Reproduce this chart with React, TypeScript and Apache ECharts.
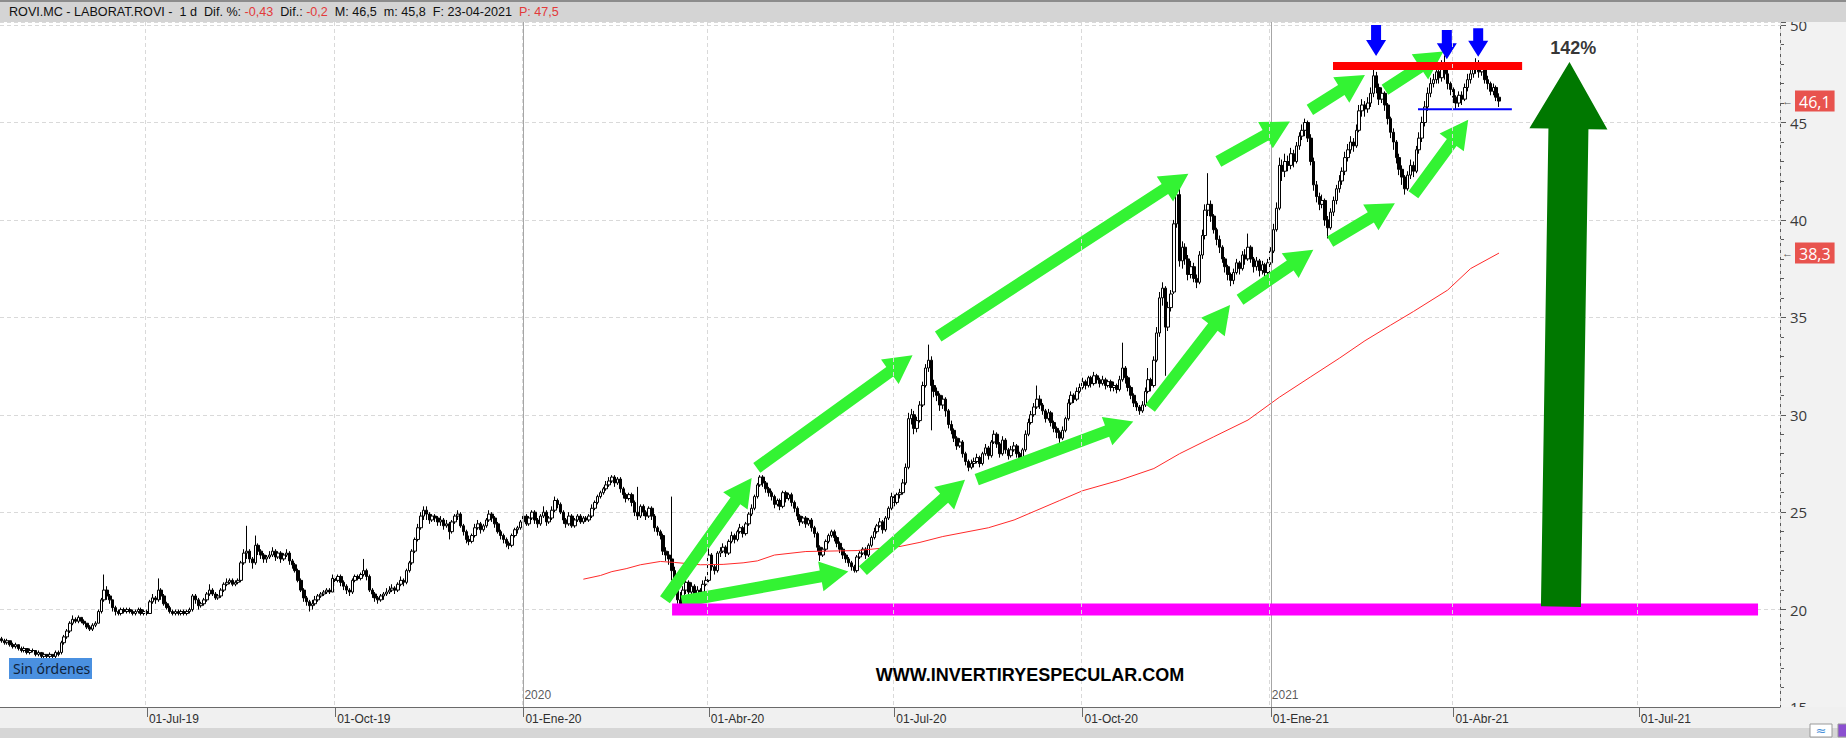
import React, { useEffect, useRef } from 'react';
import * as echarts from 'echarts';

// ---------- categories (weekdays) ----------
const START_UTC = Date.UTC(2019, 3, 19);
const CATEGORY_COUNT = 624;
const QUARTER_MONTH_NAMES: Record<number, string> = { 1: 'Ene', 4: 'Abr', 7: 'Jul', 10: 'Oct' };
const yearMarks = ['2020-01-01', '2021-01-01'];
const yearLabels = ['2020', '2021'];

// ---------- daily candles [open, close, low, high] ----------
const candles: number[][] = [
  [18.5,18.4,18.3,18.6],[18.4,18.3,18.2,18.5],[18.3,18.4,18.2,18.5],[18.4,18.2,18.1,18.4],[18.2,18.1,18.0,18.3],
  [18.1,18.2,18.0,18.3],[18.2,18.0,17.9,18.2],[18.0,17.9,17.8,18.1],[17.9,18.0,17.8,18.1],[18.0,17.8,17.7,18.0],
  [17.8,17.9,17.7,18.0],[17.9,17.9,17.8,18.0],[17.9,17.7,17.6,17.9],[17.7,17.8,17.6,17.9],[17.8,17.6,17.5,17.8],
  [17.6,17.7,17.5,17.8],[17.7,17.6,17.5,17.7],[17.6,17.7,17.5,17.8],[17.7,17.6,17.5,17.7],[17.6,17.8,17.5,17.9],
  [17.8,17.7,17.6,17.9],[17.8,18.3,17.7,18.4],[18.3,18.6,18.2,18.7],[18.6,18.9,18.5,19.0],[18.9,19.3,18.8,19.4],
  [19.3,19.5,19.2,19.7],[19.5,19.4,19.3,19.6],[19.4,19.6,19.3,19.7],[19.6,19.4,19.3,19.6],[19.4,19.3,19.2,19.5],
  [19.3,19.1,19.0,19.3],[19.1,19.0,18.9,19.2],[19.0,19.2,18.9,19.3],[19.2,19.3,19.1,19.4],[19.3,19.9,19.3,20.0],
  [19.9,20.5,19.8,20.6],[20.5,21.0,20.4,21.8],[21.0,20.7,20.5,21.2],[20.7,20.5,20.3,20.8],[20.5,20.1,19.9,20.5],
  [20.1,19.9,19.7,20.2],[19.9,19.8,19.7,20.0],[19.8,20.0,19.7,20.1],[20.0,19.9,19.8,20.1],[19.9,20.0,19.8,20.1],
  [20.0,19.9,19.8,20.1],[19.9,19.8,19.7,20.0],[19.8,19.9,19.7,20.0],[19.9,20.0,19.8,20.1],[20.0,19.8,19.7,20.1],
  [19.8,19.9,19.7,20.0],[19.9,19.8,19.7,20.0],[19.8,20.4,19.8,20.5],[20.4,20.6,20.3,20.8],[20.6,20.5,20.3,20.7],
  [20.5,21.0,20.4,21.6],[21.0,20.7,20.5,21.1],[20.7,20.3,20.2,20.8],[20.3,20.1,20.0,20.4],[20.1,19.9,19.8,20.2],
  [19.9,19.8,19.7,20.0],[19.8,19.9,19.7,20.0],[19.9,19.8,19.7,20.0],[19.8,19.9,19.7,20.0],[19.9,19.8,19.7,20.0],
  [19.8,19.9,19.7,20.0],[19.9,20.0,19.8,20.1],[20.0,20.7,19.9,20.8],[20.7,20.5,20.3,20.8],[20.5,20.2,20.0,20.6],
  [20.2,20.3,20.1,20.4],[20.3,20.5,20.2,20.6],[20.5,20.8,20.4,20.9],[20.8,21.0,20.7,21.3],[21.0,20.8,20.7,21.1],
  [20.8,20.6,20.5,20.9],[20.6,20.7,20.5,20.8],[20.7,21.0,20.6,21.1],[21.0,21.3,20.9,21.4],[21.3,21.4,21.2,21.6],
  [21.4,21.5,21.3,21.6],[21.5,21.3,21.2,21.6],[21.3,21.4,21.2,21.5],[21.4,21.5,21.3,21.6],[21.5,22.4,21.4,22.5],
  [22.4,22.9,22.3,23.1],[22.9,23.0,22.6,24.3],[23.0,22.6,22.4,23.1],[22.6,22.4,22.1,22.7],[22.4,23.3,22.3,23.8],
  [23.3,23.0,22.8,23.4],[23.0,22.8,22.6,23.1],[22.8,22.6,22.4,22.9],[22.6,22.7,22.4,22.8],[22.7,22.8,22.6,23.0],
  [22.8,23.0,22.7,23.2],[23.0,22.7,22.5,23.1],[22.7,22.9,22.6,23.0],[22.9,22.6,22.4,23.0],[22.6,22.8,22.5,22.9],
  [22.8,22.9,22.7,23.1],[22.9,22.5,22.3,23.0],[22.5,22.3,22.1,22.6],[22.3,22.0,21.9,22.4],[22.0,21.5,21.4,22.1],
  [21.5,21.0,20.9,21.6],[21.0,20.6,20.4,21.1],[20.6,20.4,20.2,20.7],[20.4,20.2,19.9,20.5],[20.2,20.3,20.0,20.5],
  [20.3,20.5,20.2,20.7],[20.5,20.7,20.4,20.8],[20.7,20.8,20.6,20.9],[20.8,20.9,20.7,21.0],[20.9,21.0,20.8,21.1],
  [21.0,20.9,20.8,21.1],[20.9,21.6,20.9,21.8],[21.6,21.5,21.3,21.7],[21.5,21.7,21.4,21.8],[21.7,21.4,21.2,21.8],
  [21.4,21.2,21.0,21.5],[21.2,21.0,20.8,21.3],[21.0,20.9,20.7,21.1],[20.9,21.5,20.8,21.6],[21.5,21.7,21.4,21.8],
  [21.7,21.6,21.5,21.8],[21.6,21.8,21.5,21.9],[21.8,22.0,21.7,22.6],[22.0,21.7,21.5,22.1],[21.7,21.0,20.9,21.8],
  [21.0,20.8,20.6,21.1],[20.8,20.6,20.4,20.9],[20.6,20.5,20.3,20.7],[20.5,20.7,20.4,20.8],[20.7,20.8,20.5,20.9],
  [20.8,20.9,20.7,21.1],[20.9,21.0,20.8,21.2],[21.0,21.1,20.9,21.3],[21.1,21.0,20.8,21.2],[21.0,21.3,20.9,21.4],
  [21.3,21.5,21.2,21.7],[21.5,21.4,21.2,21.6],[21.4,22.0,21.3,22.1],[22.0,22.4,21.9,22.5],[22.4,23.0,22.3,23.1],
  [23.0,23.6,22.9,23.7],[23.6,24.2,23.5,24.4],[24.2,24.8,24.1,25.0],[24.8,25.1,24.6,25.3],[25.1,24.9,24.6,25.3],
  [24.9,24.6,24.4,25.0],[24.6,24.8,24.5,24.9],[24.8,24.7,24.5,24.9],[24.7,24.5,24.3,24.8],[24.5,24.6,24.3,24.8],
  [24.6,24.3,24.1,24.7],[24.3,24.4,24.2,24.6],[24.4,24.0,23.6,24.5],[24.0,24.5,23.9,24.6],[24.5,24.8,24.4,24.9],
  [24.8,24.9,24.6,25.1],[24.9,24.3,24.2,25.0],[24.3,24.0,23.8,24.4],[24.0,23.6,23.4,24.1],[23.6,23.5,23.3,23.8],
  [23.5,23.8,23.4,23.9],[23.8,24.2,23.7,24.4],[24.2,24.4,24.1,24.6],[24.4,24.1,23.9,24.5],[24.1,24.3,24.0,24.4],
  [24.3,24.6,24.2,24.7],[24.6,24.9,24.5,25.1],[24.9,24.7,24.5,25.0],[24.7,24.4,24.2,24.8],[24.4,24.0,23.9,24.5],
  [24.0,23.8,23.6,24.1],[23.8,23.6,23.4,23.9],[23.6,23.4,23.2,23.7],[23.4,23.3,23.1,23.5],[23.3,23.8,23.2,23.9],
  [23.8,24.1,23.7,24.2],[24.1,24.2,23.9,24.3],[24.2,24.5,24.1,24.6],[24.5,24.8,24.4,24.9],[24.8,24.4,24.3,24.9],
  [24.4,24.7,24.3,24.8],[24.7,25.0,24.6,25.1],[25.0,24.6,24.4,25.1],[24.6,24.4,24.2,24.7],[24.4,24.8,24.3,24.9],
  [24.8,25.0,24.7,25.3],[25.0,24.5,24.3,25.1],[24.5,24.7,24.4,24.8],[24.7,25.1,24.6,25.3],[25.1,25.6,25.0,25.8],
  [25.6,25.4,25.2,25.7],[25.4,25.0,24.9,25.5],[25.0,24.6,24.4,25.1],[24.6,24.4,24.2,24.7],[24.4,24.8,24.3,25.0],
  [24.8,24.3,24.2,24.9],[24.3,24.6,24.2,24.7],[24.6,24.8,24.5,24.9],[24.8,24.5,24.4,24.9],[24.5,24.7,24.4,24.8],
  [24.7,24.6,24.5,24.8],[24.6,24.8,24.5,24.9],[24.8,25.2,24.7,25.4],[25.2,25.5,25.1,25.6],[25.5,25.8,25.4,25.9],
  [25.8,26.0,25.7,26.1],[26.0,26.2,25.9,26.3],[26.2,26.4,26.1,26.6],[26.4,26.6,26.3,26.8],[26.6,26.8,26.5,26.9],
  [26.8,26.5,26.3,26.9],[26.5,26.7,26.4,26.8],[26.7,26.2,26.0,26.8],[26.2,25.9,25.7,26.3],[25.9,25.7,25.5,26.0],
  [25.7,25.9,25.6,26.0],[25.9,25.5,25.3,26.0],[25.5,25.0,24.8,25.6],[25.0,24.8,24.6,26.3],[24.8,25.3,24.7,25.4],
  [25.3,25.0,24.8,25.4],[25.0,24.8,24.6,25.1],[24.8,25.2,24.7,25.3],[25.2,24.8,24.6,25.3],[24.8,24.2,24.0,24.9],
  [24.2,24.0,23.8,24.3],[24.0,23.8,23.6,24.1],[23.8,23.0,22.8,23.9],[23.0,22.8,22.5,23.2],[22.8,22.6,22.3,23.0],
  [22.6,22.0,21.5,25.8],[22.0,21.0,20.8,22.2],[21.0,20.5,20.3,21.3],[20.5,20.3,20.1,20.9],[20.3,21.0,20.2,21.2],
  [21.0,21.4,20.8,21.6],[21.4,20.9,20.7,21.5],[20.9,21.2,20.8,21.4],[21.2,20.8,20.6,21.3],[20.8,21.0,20.7,21.2],
  [21.0,20.9,20.7,21.1],[20.9,21.3,20.8,21.5],[21.3,21.5,21.2,21.7],[21.5,22.8,21.4,23.4],[22.8,22.2,22.0,22.9],
  [22.2,22.0,21.8,22.3],[22.0,22.9,21.9,23.0],[22.9,23.0,22.7,23.2],[23.0,23.2,22.9,23.4],[23.2,22.9,22.7,23.3],
  [22.9,23.5,22.8,23.6],[23.5,23.8,23.4,24.0],[23.8,23.6,23.4,23.9],[23.6,24.0,23.5,24.1],[24.0,24.2,23.9,24.4],
  [24.2,23.9,23.7,24.3],[23.9,24.4,23.8,24.5],[24.4,24.9,24.3,25.0],[24.9,25.2,24.8,25.4],[25.2,25.8,25.1,25.9],
  [25.8,26.4,25.7,26.5],[26.4,26.8,26.3,26.9],[26.8,26.5,26.3,26.9],[26.5,26.2,26.0,26.6],[26.2,26.0,25.8,26.3],
  [26.0,25.8,25.6,26.1],[25.8,25.4,25.2,25.9],[25.4,25.6,25.3,25.7],[25.6,25.3,25.1,25.7],[25.3,26.0,25.2,26.1],
  [26.0,25.7,25.5,26.1],[25.7,25.9,25.6,26.0],[25.9,25.5,25.3,26.0],[25.5,25.2,25.0,25.6],[25.2,24.8,24.6,25.3],
  [24.8,24.5,24.3,24.9],[24.5,24.7,24.4,24.8],[24.7,24.4,24.2,24.8],[24.4,24.6,24.3,24.7],[24.6,24.2,24.0,24.7],
  [24.2,23.9,23.7,24.3],[23.9,23.2,23.0,24.0],[23.2,22.8,22.5,23.3],[22.8,23.1,22.7,23.2],[23.1,23.5,23.0,23.6],
  [23.5,23.8,23.4,23.9],[23.8,24.0,23.7,24.1],[24.0,23.7,23.5,24.1],[23.7,23.4,23.2,23.8],[23.4,23.1,22.9,23.5],
  [23.1,22.8,22.6,23.2],[22.8,22.6,22.4,22.9],[22.6,22.4,22.2,22.7],[22.4,22.2,22.0,22.5],[22.2,22.0,21.9,22.3],
  [22.0,22.7,21.9,22.8],[22.7,22.9,22.6,23.0],[22.9,23.1,22.8,23.2],[23.1,22.8,22.6,23.2],[22.8,23.3,22.7,23.4],
  [23.3,23.7,23.2,23.8],[23.7,24.0,23.6,24.2],[24.0,24.3,23.9,24.4],[24.3,24.5,24.2,24.7],[24.5,24.1,23.9,24.6],
  [24.1,24.7,24.0,24.8],[24.7,25.2,24.6,25.3],[25.2,25.8,25.1,26.0],[25.8,25.5,25.3,25.9],[25.5,25.9,25.4,26.0],
  [25.9,26.0,25.7,26.2],[26.0,26.5,25.9,26.7],[26.5,27.3,26.4,27.5],[27.3,29.8,27.2,30.1],[29.8,30.0,29.5,30.3],
  [30.0,29.3,29.0,30.2],[29.3,29.7,29.1,29.9],[29.7,30.5,29.6,30.7],[30.5,31.5,30.4,31.7],[31.5,32.4,31.4,32.6],
  [32.4,32.8,32.2,33.6],[32.8,31.5,29.2,33.0],[31.5,31.2,30.9,31.8],[31.2,31.0,30.7,31.4],[31.0,30.5,30.2,31.1],
  [30.5,30.8,30.3,31.0],[30.8,30.2,29.9,30.9],[30.2,29.5,29.3,30.3],[29.5,29.2,29.0,29.7],[29.2,28.8,28.6,29.3],
  [28.8,28.4,28.2,28.9],[28.4,28.6,28.3,28.8],[28.6,28.0,27.8,28.7],[28.0,27.6,27.4,28.1],[27.6,27.3,27.1,27.7],
  [27.3,27.5,27.2,27.7],[27.5,27.6,27.3,27.8],[27.6,27.8,27.5,28.0],[27.8,27.5,27.3,27.9],[27.5,28.0,27.4,28.1],
  [28.0,28.3,27.9,28.5],[28.3,27.9,27.7,28.4],[27.9,28.6,27.8,28.7],[28.6,29.0,28.5,29.2],[29.0,28.5,28.3,29.1],
  [28.5,28.0,27.8,28.6],[28.0,28.7,27.9,28.9],[28.7,28.2,28.0,28.8],[28.2,27.9,27.7,28.3],[27.9,28.2,27.8,28.4],
  [28.2,28.4,28.1,28.6],[28.4,28.0,27.8,28.5],[28.0,27.8,27.6,28.1],[27.8,28.2,27.7,28.3],[28.2,29.0,28.1,29.2],
  [29.0,29.6,28.9,29.8],[29.6,30.0,29.5,30.2],[30.0,30.4,29.9,30.6],[30.4,30.8,30.3,31.5],[30.8,30.5,30.3,31.0],
  [30.5,30.2,30.0,30.6],[30.2,29.8,29.6,30.3],[29.8,30.1,29.7,30.3],[30.1,29.6,29.4,30.2],[29.6,29.3,29.1,29.7],
  [29.3,29.1,28.8,29.4],[29.1,28.8,28.5,29.2],[28.8,29.2,28.7,29.4],[29.2,29.8,29.1,29.9],[29.8,30.6,29.7,30.8],
  [30.6,31.0,30.5,31.2],[31.0,30.8,30.6,31.1],[30.8,31.2,30.7,31.4],[31.2,31.4,31.1,31.6],[31.4,31.7,31.3,31.9],
  [31.7,31.5,31.3,31.8],[31.5,31.9,31.4,32.0],[31.9,31.6,31.4,32.0],[31.6,32.0,31.5,32.2],[32.0,31.8,31.6,32.1],
  [31.8,31.6,31.4,31.9],[31.6,31.8,31.5,32.0],[31.8,31.5,31.3,31.9],[31.5,31.7,31.4,31.8],[31.7,31.4,31.2,31.8],
  [31.4,31.5,31.2,31.7],[31.5,31.3,31.1,31.6],[31.3,31.8,31.2,32.0],[31.8,32.4,31.7,33.7],[32.4,31.9,31.6,32.5],
  [31.9,31.4,31.2,32.0],[31.4,31.0,30.8,31.5],[31.0,30.6,30.4,31.1],[30.6,30.4,30.2,30.7],[30.4,30.2,30.0,30.5],
  [30.2,30.5,30.1,30.7],[30.5,31.2,30.4,31.4],[31.2,31.8,31.1,32.4],[31.8,31.5,31.2,31.9],[31.5,32.8,31.4,33.0],
  [32.8,34.2,32.7,34.5],[34.2,36.0,34.0,36.3],[36.0,36.5,35.6,36.8],[36.5,34.5,32.0,36.6],[34.5,35.5,34.3,35.8],
  [35.5,36.2,35.3,36.4],[36.3,39.8,36.2,40.0],[39.8,41.3,39.6,42.2],[41.3,37.9,37.6,41.6],[37.9,38.6,37.5,38.9],
  [38.6,38.0,37.7,38.8],[38.0,37.2,36.9,38.2],[37.2,37.6,37.0,37.9],[37.6,37.0,36.8,37.8],[37.0,36.8,36.5,37.2],
  [36.8,38.2,36.7,38.4],[38.2,39.2,38.0,39.5],[39.2,40.5,39.0,40.8],[40.5,40.8,40.2,42.4],[40.8,40.2,39.9,41.0],
  [40.2,39.5,39.3,40.3],[39.5,39.0,38.7,39.6],[39.0,38.6,38.3,39.2],[38.6,38.0,37.8,38.7],[38.0,37.6,37.3,38.1],
  [37.6,37.2,36.9,37.7],[37.2,36.9,36.6,37.3],[36.9,37.3,36.7,37.5],[37.3,37.8,37.2,38.0],[37.8,37.5,37.2,37.9],
  [37.5,38.2,37.4,38.4],[38.2,38.0,37.7,38.5],[38.0,38.6,37.9,39.3],[38.6,38.0,37.8,38.7],[38.0,37.6,37.3,38.1],
  [37.6,37.9,37.4,38.1],[37.9,37.4,37.1,38.0],[37.4,37.7,37.2,37.9],[37.7,37.3,37.1,37.8],[37.3,37.8,37.2,38.0],
  [37.8,38.4,37.7,38.6],[38.4,39.5,38.3,39.8],[39.5,40.6,39.4,40.9],[40.6,42.8,40.5,43.2],[42.8,42.5,42.0,43.1],
  [42.5,43.0,42.2,43.4],[43.0,42.8,42.5,43.3],[42.8,43.4,42.6,43.7],[43.4,43.0,42.7,43.6],[43.0,43.8,42.9,44.0],
  [43.8,44.3,43.6,44.5],[44.3,44.6,44.1,44.9],[44.6,45.0,44.3,45.2],[45.0,44.2,44.0,45.1],[44.2,43.0,42.8,44.4],
  [43.0,41.8,41.5,43.2],[41.8,41.2,40.9,42.0],[41.2,40.8,40.5,41.4],[40.8,41.0,40.6,41.3],[41.0,40.0,39.7,41.1],
  [40.0,39.6,39.05,40.2],[39.6,40.4,39.5,40.6],[40.4,41.0,40.2,41.2],[41.0,41.6,40.8,41.8],[41.6,42.0,41.4,42.3],
  [42.0,42.5,41.8,42.7],[42.5,43.2,42.3,43.5],[43.2,43.6,43.0,43.9],[43.6,44.0,43.4,44.3],[44.0,43.8,43.5,44.2],
  [43.8,44.6,43.7,44.9],[44.6,45.6,44.5,45.9],[45.6,45.9,45.3,46.2],[45.9,45.7,45.3,46.1],[45.7,46.0,45.5,46.3],
  [46.0,46.5,45.8,46.8],[46.5,47.4,46.3,47.75],[47.4,46.8,46.5,47.6],[46.8,46.2,45.9,47.0],[46.2,46.5,46.0,46.8],
  [46.5,45.9,45.6,46.6],[45.9,45.2,44.9,46.0],[45.2,44.5,44.2,45.3],[44.5,44.0,43.6,44.7],[44.0,43.2,42.9,44.1],
  [43.2,42.6,42.3,43.4],[42.6,42.2,41.8,42.8],[42.2,41.6,41.3,42.3],[41.6,42.3,41.5,42.5],[42.3,42.8,42.1,43.1],
  [42.8,42.5,42.2,43.0],[42.5,43.6,42.4,43.8],[43.6,44.2,43.4,44.5],[44.2,45.0,44.0,45.3],[45.0,45.8,44.8,46.1],
  [45.8,46.5,45.6,46.8],[46.5,47.0,46.3,47.3],[47.0,47.2,46.8,47.5],[47.2,47.6,47.0,47.9],[47.6,47.3,47.0,47.8],
  [47.3,47.9,47.1,48.2],[47.9,47.5,47.2,48.45],[47.5,47.0,46.7,47.7],[47.0,46.7,46.4,47.1],[46.7,46.3,46.0,46.8],
  [46.3,46.0,45.7,46.4],[46.0,46.4,45.8,46.6],[46.4,46.2,45.9,46.6],[46.2,46.8,46.1,47.0],[46.8,47.2,46.6,47.5],
  [47.2,47.5,47.0,47.8],[47.5,47.8,47.3,48.1],[47.8,48.0,47.5,48.3],[48.0,47.6,47.3,48.2],[47.6,47.8,47.4,48.1],
  [47.8,47.2,47.0,47.9],[47.2,47.0,46.7,47.4],[47.0,46.6,46.4,47.1],[46.6,46.8,46.4,47.0],[46.8,46.3,46.1,46.9],
  [46.3,46.1,45.8,46.5],
];

// 200-session moving average [category index, value]
const smaPoints: number[][] = [
  [204,21.56],[210,21.75],[214,21.95],[219,22.1],[224,22.3],[231,22.47],[236,22.42],[245,22.3],
  [253,22.32],[260,22.4],[265,22.5],[271,22.8],[282,22.98],[300,23.03],[315,23.24],[322,23.45],
  [330,23.75],[346,24.2],[355,24.6],[363,25.1],[371,25.6],[379,26.1],[392,26.64],[404,27.24],
  [413,28.0],[425,28.87],[437,29.73],[448,30.9],[459,31.95],[469,32.9],[478,33.8],[487,34.6],
  [495,35.3],[507,36.4],[515,37.5],[525,38.3],
];

// annotations in data space [x1 index, price1, x2 index, price2]
const limeArrows: number[][] = [
  [232.6,20.51,263.0,26.75],[238.5,20.42,296.9,21.96],[264.8,27.27,319.4,33.05],[302.0,22.0,337.8,26.67],
  [328.4,34.02,416.1,42.37],[341.9,26.67,396.8,29.66],[402.7,30.34,430.7,35.64],[434.2,35.9,459.9,38.47],
  [426.6,43.0,451.7,45.05],[458.7,45.65,478.0,47.44],[465.8,38.89,488.5,40.86],[485.0,46.68,505.5,48.64],
  [495.0,41.29,514.2,45.14],
];
const blueArrows: number[][] = [[481.9,50.0,481.9,48.41],[506.7,49.75,506.7,48.25],[517.7,49.84,517.7,48.38]];
const bigArrow: number[][] = [[546.7,20.15,549.7,48.11]];
const supportBar: number[][] = [[235.1,20.0,615.8,20.0]];
const resistanceBar: number[][] = [[466.8,47.9,533.1,47.9]];
const neckLine: number[][] = [[496.6,45.68,529.5,45.68]];
const gainLabel: (number | string)[][] = [[550.6,48.83,'142%']];
const lastClose = 46.1;
const lastSma = 38.3;
const lastCloseText = '46,1';
const lastSmaText = '38,3';

const headerParts: [string, boolean][] = [
  ['ROVI.MC - LABORAT.ROVI -  1 d  Dif. %: ', false], ['-0,43', true], ['  Dif.: ', false], ['-0,2', true],
  ['  M: 46,5  m: 45,8  F: 23-04-2021  ', false], ['P: 47,5', true],
];

function buildCategories(): string[] {
  const out: string[] = [];
  let t = START_UTC;
  while (out.length < CATEGORY_COUNT) {
    const d = new Date(t);
    const wd = d.getUTCDay();
    if (wd !== 0 && wd !== 6) out.push(d.toISOString().slice(0, 10));
    t += 86400000;
  }
  return out;
}

function coordAt(api: any, x: number, y: number): number[] {
  const i = Math.floor(x);
  const p = api.coord([i, y]);
  const bw = api.size([1, 0])[0];
  return [p[0] + (x - i) * bw, p[1]];
}

function arrowSeries(name: string, arr: number[][], color: string, shaft: number, headW: number, headL: number, z: number) {
  return {
    type: 'custom', name, z, clip: false, silent: true,
    data: arr.map((a) => [Math.round(a[0]), a[1]]),
    renderItem: (params: any, api: any) => {
      const a = arr[params.dataIndex];
      const p1 = coordAt(api, a[0], a[1]);
      const p2 = coordAt(api, a[2], a[3]);
      const dx = p2[0] - p1[0], dy = p2[1] - p1[1];
      const len = Math.hypot(dx, dy) || 1;
      const ux = dx / len, uy = dy / len, nx = -uy, ny = ux;
      const hb = [p2[0] - ux * headL, p2[1] - uy * headL];
      const s = shaft / 2, h = headW / 2;
      const points = [
        [p1[0] + nx * s, p1[1] + ny * s], [hb[0] + nx * s, hb[1] + ny * s], [hb[0] + nx * h, hb[1] + ny * h],
        [p2[0], p2[1]],
        [hb[0] - nx * h, hb[1] - ny * h], [hb[0] - nx * s, hb[1] - ny * s], [p1[0] - nx * s, p1[1] - ny * s],
      ];
      return { type: 'polygon', shape: { points }, style: { fill: color } };
    },
  };
}

function barSeries(name: string, arr: number[][], color: string, thick: number, z: number) {
  return {
    type: 'custom', name, z, clip: false, silent: true,
    data: arr.map((a) => [Math.round(a[0]), a[1]]),
    renderItem: (params: any, api: any) => {
      const a = arr[params.dataIndex];
      const p1 = coordAt(api, a[0], a[1]);
      const p2 = coordAt(api, a[2], a[3]);
      return { type: 'rect', shape: { x: p1[0], y: p1[1] - thick / 2, width: p2[0] - p1[0], height: thick }, style: { fill: color } };
    },
  };
}

function buildOption() {
  const cats = buildCategories();
  const quarterIdx = new Set<number>();
  cats.forEach((c, i) => {
    const m = +c.slice(5, 7);
    if (QUARTER_MONTH_NAMES[m] && (i === 0 ? false : cats[i - 1].slice(5, 7) !== c.slice(5, 7))) quarterIdx.add(i);
  });
  const isQ = (i: number) => quarterIdx.has(i);
  const fmtDate = (v: string) => '01-' + QUARTER_MONTH_NAMES[+v.slice(5, 7)] + '-' + v.slice(2, 4);

  const headerText = headerParts.map(([t, red]) => `{${red ? 'r' : 'k'}|${t}}`).join('');
  const priceLabel = (txt: string) => ({
    show: true, position: 'end', distance: 2,
    formatter: `{a|←}{b|${txt}}`,
    rich: {
      a: { color: '#555', fontSize: 11, padding: [0, 2, 0, 0] },
      b: { color: '#fff', backgroundColor: '#e8534e', fontSize: 16, fontFamily: 'Open Sans', padding: [3, 4, 2, 4] },
    },
  });

  return {
    animation: false,
    backgroundColor: '#f2f2f2',
    grid: { left: 0, right: 66, top: 22, bottom: 31, show: true, backgroundColor: '#ffffff', borderWidth: 0 },
    xAxis: {
      type: 'category', data: cats, boundaryGap: true, z: 10,
      axisLine: { show: true, lineStyle: { color: '#6a6a6a', width: 1 } },
      axisTick: { show: true, interval: (i: number) => isQ(i), alignWithLabel: true, length: 10, lineStyle: { color: '#6a6a6a' } },
      axisLabel: {
        show: true, interval: (i: number) => isQ(i), formatter: (v: string) => fmtDate(v),
        align: 'left', margin: 6, color: '#2e2e2e', fontSize: 12, fontFamily: 'Liberation Sans', padding: [0, 0, 0, 2],
      },
      splitLine: { show: true, interval: (i: number) => isQ(i), lineStyle: { color: '#d9d9d9', type: [4, 3] } },
    },
    yAxis: {
      type: 'value', position: 'right', min: 15, max: 50.16, interval: 5, z: 0,
      axisLine: { show: true, lineStyle: { color: '#5a5a5a' } },
      axisTick: { show: true, length: 6, lineStyle: { color: '#5a5a5a' } },
      minorTick: { show: true, splitNumber: 5, length: 4, lineStyle: { color: '#5a5a5a' } },
      axisLabel: {
        color: '#3a3a3a', fontSize: 15, fontFamily: 'Open Sans', margin: 10,
        formatter: (v: number) => (Math.abs(v % 5) < 1e-6 ? String(v) : ''),
      },
      splitLine: { show: true, lineStyle: { color: '#d9d9d9', type: [4, 3] } },
    },
    series: [
      {
        type: 'candlestick', name: 'ROVI', data: candles, barWidth: 3, z: 3,
        itemStyle: { color: '#ffffff', color0: '#000000', borderColor: '#000000', borderColor0: '#000000', borderWidth: 1 },
        markLine: {
          silent: true, symbol: ['none', 'none'], animation: false,
          data: [
            ...yearMarks.map((d) => ({ xAxis: d, lineStyle: { color: '#a6a6a6', type: 'solid', width: 1 }, label: { show: false } })),
            { yAxis: lastClose, lineStyle: { color: 'rgba(0,0,0,0)', width: 1, type: 'solid' }, label: priceLabel(lastCloseText) },
            { yAxis: lastSma, lineStyle: { color: 'rgba(0,0,0,0)', width: 1, type: 'solid' }, label: priceLabel(lastSmaText) },
          ],
        },
      },
      {
        type: 'line', name: 'MA', data: smaPoints, showSymbol: false, symbol: 'none', z: 4, silent: true,
        lineStyle: { color: '#ff2a2a', width: 1 },
      },
      {
        type: 'scatter', name: 'years', symbolSize: 0, silent: true, z: 4,
        data: yearMarks.map((d, i) => ({ value: [d, 15.64], name: yearLabels[i] })),
        label: { show: true, position: 'right', distance: 1, formatter: '{b}', color: '#2e2e2e', fontSize: 12, fontFamily: 'Liberation Sans' },
      },
      arrowSeries('lime', limeArrows, '#33f333', 12, 30, 28, 6),
      barSeries('support', supportBar, '#ff00ff', 12, 7),
      arrowSeries('big', bigArrow, '#007800', 40, 78, 67, 8),
      barSeries('resistance', resistanceBar, '#ff0000', 8, 8),
      barSeries('neck', neckLine, '#0000ff', 2, 8),
      arrowSeries('blue', blueArrows, '#0000ff', 10, 20, 16, 9),
      {
        type: 'scatter', name: 'gain', symbolSize: 0, silent: true, z: 9,
        data: gainLabel.map((g) => ({ value: [Math.round(g[0] as number), g[1]], name: g[2] })),
        label: { show: true, position: 'inside', formatter: '{b}', color: '#000', fontSize: 18, fontWeight: 'bold', fontFamily: 'Liberation Sans' },
      },
    ],
    graphic: [
      { type: 'rect', z: 100, shape: { x: 0, y: 0, width: 1846, height: 22 }, style: { fill: '#d4d4d4' } },
      { type: 'rect', z: 101, shape: { x: 0, y: 0, width: 1846, height: 2 }, style: { fill: '#8c8c8c' } },
      {
        type: 'text', z: 102, x: 9, y: 12,
        style: {
          text: headerText, verticalAlign: 'middle', fill: '#111',
          font: '12.6px "Liberation Sans"',
          rich: { k: { fill: '#111', fontSize: 12.6, fontFamily: 'Liberation Sans' }, r: { fill: '#e23a3a', fontSize: 12.6, fontFamily: 'Liberation Sans' } },
        },
      },
      { type: 'rect', z: 5, shape: { x: 0, y: 707, width: 1846, height: 21 }, style: { fill: '#f0f0f0' } },
      { type: 'rect', z: 6, shape: { x: 0, y: 728, width: 1846, height: 10 }, style: { fill: '#d6d6d6' } },
      { type: 'rect', z: 7, shape: { x: 1810, y: 724, width: 22, height: 13 }, style: { fill: '#fff', stroke: '#9a9a9a', lineWidth: 1 } },
      { type: 'text', z: 8, x: 1821, y: 730.5, style: { text: '≈', fill: '#4a90d9', font: '13px "DejaVu Sans"', align: 'center', verticalAlign: 'middle' } },
      { type: 'rect', z: 7, shape: { x: 1838, y: 724, width: 9, height: 13 }, style: { fill: '#8b4fd0', stroke: '#9a9a9a', lineWidth: 1 } },
      { type: 'rect', z: 50, shape: { x: 9, y: 658, width: 83, height: 21 }, style: { fill: '#4a90e0' } },
      { type: 'text', z: 51, x: 13, y: 668.5, style: { text: 'Sin órdenes', fill: '#10233a', font: '14px "Noto Sans"', verticalAlign: 'middle' } },
      { type: 'text', z: 50, x: 1030, y: 675, style: { text: 'WWW.INVERTIRYESPECULAR.COM', fill: '#000', font: 'bold 18px "Liberation Sans"', align: 'center', verticalAlign: 'middle' } },
    ],
  };
}

export default function App() {
  const ref = useRef<HTMLDivElement>(null);
  useEffect(() => {
    if (!ref.current) return;
    const chart = echarts.init(ref.current, undefined, { renderer: 'svg' });
    chart.setOption(buildOption() as any);
    return () => chart.dispose();
  }, []);
  return <div ref={ref} style={{ position: 'fixed', left: 0, top: 0, width: 1846, height: 738 }} />;
}
